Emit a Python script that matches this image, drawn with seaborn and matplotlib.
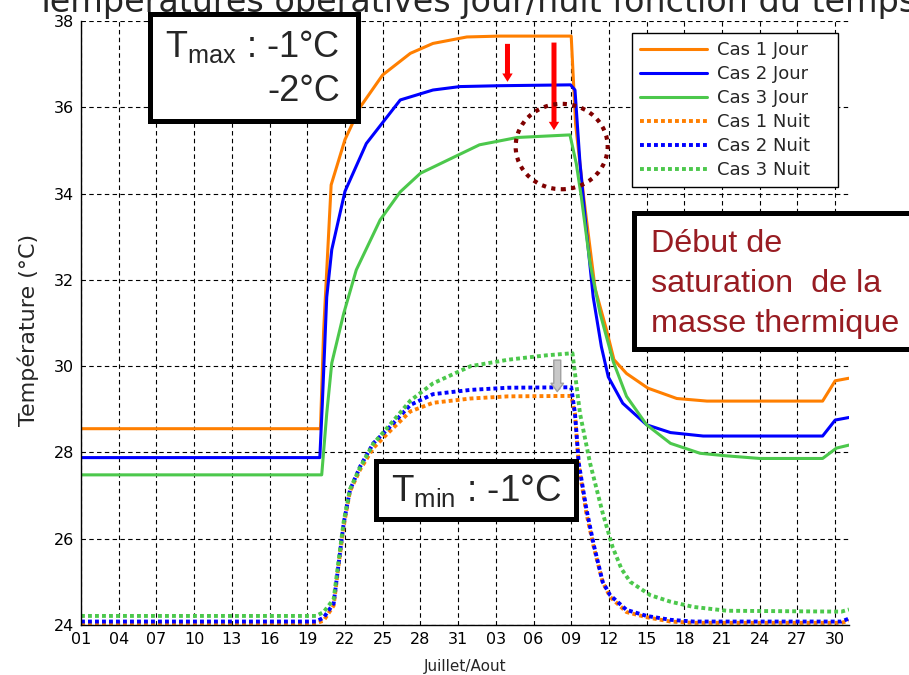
import numpy as np
import pandas as pd
import matplotlib
matplotlib.use('Agg')
import matplotlib.pyplot as plt
import seaborn as sns
from matplotlib.patches import Rectangle, Ellipse
from matplotlib.lines import Line2D

W, H = 909, 675

# x = jour depuis le 01 juillet (0 = 01/07, 31 = 01/08)
tick_days = list(range(0, 61, 3))
tick_labels = ['01', '04', '07', '10', '13', '16', '19', '22', '25', '28', '31',
               '03', '06', '09', '12', '15', '18', '21', '24', '27', '30']

jour1_x = [0, 19.05, 19.3, 19.9, 21.0, 22.2, 24.0, 26.2, 28.0, 30.7, 33.3, 39.0, 39.35,
           40.0, 40.9, 41.8, 42.4, 43.4, 45.1, 47.4, 49.8, 59.0, 60.0, 61.1]
jour1_y = [28.55, 28.55, 30.8, 34.2, 35.25, 36.0, 36.75, 37.25, 37.48, 37.63, 37.65, 37.65, 35.6,
           33.9, 31.8, 30.85, 30.15, 29.83, 29.49, 29.25, 29.19, 29.19, 29.66, 29.72]

jour2_x = [0, 19.0, 19.2, 19.55, 19.95, 21.0, 22.7, 25.4, 28.0, 30.15, 33.3, 38.95, 39.3,
           39.7, 40.2, 40.75, 41.4, 41.95, 43.1, 45.0, 46.9, 49.5, 59.0, 60.0, 61.1]
jour2_y = [27.88, 27.88, 29.14, 31.6, 32.7, 34.05, 35.16, 36.17, 36.4, 36.48, 36.5, 36.52, 36.4,
           34.7, 33.16, 31.6, 30.45, 29.75, 29.14, 28.64, 28.46, 28.38, 28.38, 28.75, 28.81]

jour3_x = [0, 19.15, 19.55, 19.95, 20.9, 21.9, 23.8, 25.4, 27.0, 31.7, 34.7, 38.9, 39.4,
           39.8, 40.5, 41.3, 42.35, 43.4, 45.0, 46.9, 49.25, 51.4, 54.0, 59.0, 60.1, 61.1]
jour3_y = [27.48, 27.48, 28.9, 30.07, 31.22, 32.23, 33.39, 34.04, 34.47, 35.13, 35.3, 35.36, 34.7,
           33.93, 32.38, 31.22, 30.1, 29.3, 28.64, 28.21, 27.98, 27.92, 27.86, 27.86, 28.1, 28.17]

nuit_x = [0, 18.7, 19.3, 20.1, 20.5, 20.9, 21.4, 22.2, 23.25, 24.6, 26.2, 28.0, 31.0, 34.0,
          39.0, 39.3, 39.6, 40.2, 40.8, 41.5, 42.1, 43.4, 45.0, 46.9, 48.7, 60.5, 61.1]
nuit1_y = [24.04, 24.04, 24.1, 24.45, 25.4, 26.3, 27.1, 27.6, 28.1, 28.5, 28.95, 29.15, 29.25, 29.3,
           29.31, 28.9, 27.7, 26.6, 25.8, 25.0, 24.65, 24.3, 24.18, 24.08, 24.05, 24.05, 24.1]
nuit2_y = [24.08, 24.08, 24.17, 24.5, 25.43, 26.36, 27.13, 27.67, 28.21, 28.6, 29.1, 29.35, 29.45, 29.5,
           29.51, 28.9, 27.75, 26.7, 25.85, 25.0, 24.69, 24.35, 24.21, 24.12, 24.08, 24.08, 24.15]

nuit3_x = [0, 18.7, 19.3, 20.1, 20.5, 20.9, 21.4, 22.2, 23.25, 24.6, 26.2, 28.0, 31.0, 34.0, 37.0,
           39.1, 39.7, 40.5, 41.5, 42.3, 43.0, 43.7, 45.3, 46.9, 48.7, 51.4, 60.5, 61.1]
nuit3_y = [24.21, 24.21, 24.3, 24.6, 25.5, 26.4, 27.15, 27.65, 28.2, 28.65, 29.2, 29.6, 30.0, 30.15, 30.25,
           30.3, 28.9, 27.75, 26.6, 25.8, 25.3, 25.0, 24.69, 24.54, 24.42, 24.33, 24.31, 24.36]

labels = ['Cas 1 Jour', 'Cas 2 Jour', 'Cas 3 Jour', 'Cas 1 Nuit', 'Cas 2 Nuit', 'Cas 3 Nuit']
colors = ['#ff7f00', '#0000ff', '#4cc84c']

sns.set_style('white')
plt.rcParams['font.family'] = ['DejaVu Sans']
plt.rcParams['mathtext.fontset'] = 'custom'
plt.rcParams['mathtext.rm'] = 'Liberation Sans'
plt.rcParams['mathtext.it'] = 'Liberation Sans'

fig = plt.figure(figsize=(W / 100, H / 100), dpi=100)
ax = fig.add_axes([81 / W, 1 - 625 / H, (849 - 81) / W, (625 - 21) / H])

dots = (0, (1, 0.8))
series = [(jour1_x, jour1_y, 0, '-'), (jour2_x, jour2_y, 1, '-'), (jour3_x, jour3_y, 2, '-'),
          (nuit_x, nuit1_y, 0, dots), (nuit_x, nuit2_y, 1, dots), (nuit3_x, nuit3_y, 2, dots)]
handles = []
for (xs, ys, c, ls), lab in zip(series, labels):
    lw = 2.2 if ls == '-' else 2.8
    sns.lineplot(x=xs, y=ys, ax=ax, color=colors[c], linestyle=ls, linewidth=lw,
                 estimator=None, sort=False)
    handles.append(Line2D([], [], color=colors[c], linestyle=ls, linewidth=lw))

ax.set_xlim(0, 61.1)
ax.set_ylim(24, 38)
ax.set_xticks(tick_days)
ax.set_xticklabels(tick_labels)
ax.set_yticks(range(24, 39, 2))
ax.tick_params(direction='in', length=4, labelsize=11.5, colors='black', pad=5)
ax.grid(True, color='black', linestyle=(0, (4, 3)), linewidth=0.8)
for s in ['top', 'right']:
    ax.spines[s].set_visible(False)
for s in ['left', 'bottom']:
    ax.spines[s].set_color('black')
    ax.spines[s].set_linewidth(1)
ax.set_xlabel('')
ax.set_ylabel('')

leg = ax.legend(handles, labels, loc='upper left', mode='expand',
                bbox_to_anchor=(632.3 / W, 1 - 197 / H, (838.3 - 632.3) / W, (197 - 33.3) / H),
                bbox_transform=fig.transFigure, borderaxespad=0, fontsize=13,
                handlelength=3.7, handletextpad=0.55, labelspacing=0.33, borderpad=0.45,
                fancybox=False, framealpha=1, edgecolor='black')
leg.get_frame().set_linewidth(1)


def fx(x):
    return x / W


def fy(y):
    return 1 - y / H


fig.text(fx(28), fy(330), 'Température (°C)', rotation=90, ha='center', va='center',
         fontsize=16)
fig.text(fx(465), fy(666), 'Juillet/Aout', ha='center', va='center', fontsize=11)
fig.text(fx(35), fy(12), 'Températures opératives jour/nuit fonction du temps',
         ha='left', va='baseline', fontsize=24)

# encadrés
for x0, y0, x1, y1 in [(150, 14, 357.5, 121), (376, 460.5, 575.5, 519), (633.5, 213.5, 915, 349)]:
    fig.add_artist(Rectangle((fx(x0), fy(y1)), (x1 - x0) / W, (y1 - y0) / H, transform=fig.transFigure,
                             facecolor='white', edgecolor='black', linewidth=3.6, zorder=5))

fig.text(fx(340), fy(56.7), 'T$_{\\mathrm{max}}$ : -1°C', ha='right', va='baseline', fontsize=26,
         family='Liberation Sans', zorder=6)
fig.text(fx(340), fy(100.7), '-2°C', ha='right', va='baseline', fontsize=26,
         family='Liberation Sans', zorder=6)
fig.text(fx(561.7), fy(500.7), 'T$_{\\mathrm{min}}$ : -1°C', ha='right', va='baseline', fontsize=26.5,
         family='Liberation Sans', zorder=6)
for txt, yb in [('Début de', 251.7), ('saturation  de la', 292.3), ('masse thermique', 331.7)]:
    fig.text(fx(650.7), fy(yb), txt, ha='left', va='baseline', fontsize=23.3,
             family='Liberation Sans', color='#981c22', zorder=6)

# flèches rouges et cercle
for d, t0, t1 in [(33.93, 37.47, 36.59), (37.63, 37.5, 35.47)]:
    ax.annotate('', xy=(d, t1), xytext=(d, t0),
                arrowprops=dict(arrowstyle='simple,head_length=0.6,head_width=0.75,tail_width=0.36',
                                fc='#ff0000', ec='none', shrinkA=0, shrinkB=0, mutation_scale=10))
ax.annotate('', xy=(37.89, 29.41), xytext=(37.89, 30.14),
            arrowprops=dict(arrowstyle='simple,head_length=0.6,head_width=0.9,tail_width=0.5',
                            fc='#c8c8c8', ec='#a0a0a0', shrinkA=0, shrinkB=0, mutation_scale=10))
ax.plot([37.89, 37.89], [30.1, 29.6], color='red', linestyle=(0, (1, 1)), linewidth=1.2)
ax.add_patch(Ellipse((38.24, 35.09), width=7.32, height=1.98, fill=False, edgecolor='#7f0000',
                     linewidth=3, linestyle=(0, (1, 1.3)), zorder=4))

fig.savefig('out.png', dpi=100)
